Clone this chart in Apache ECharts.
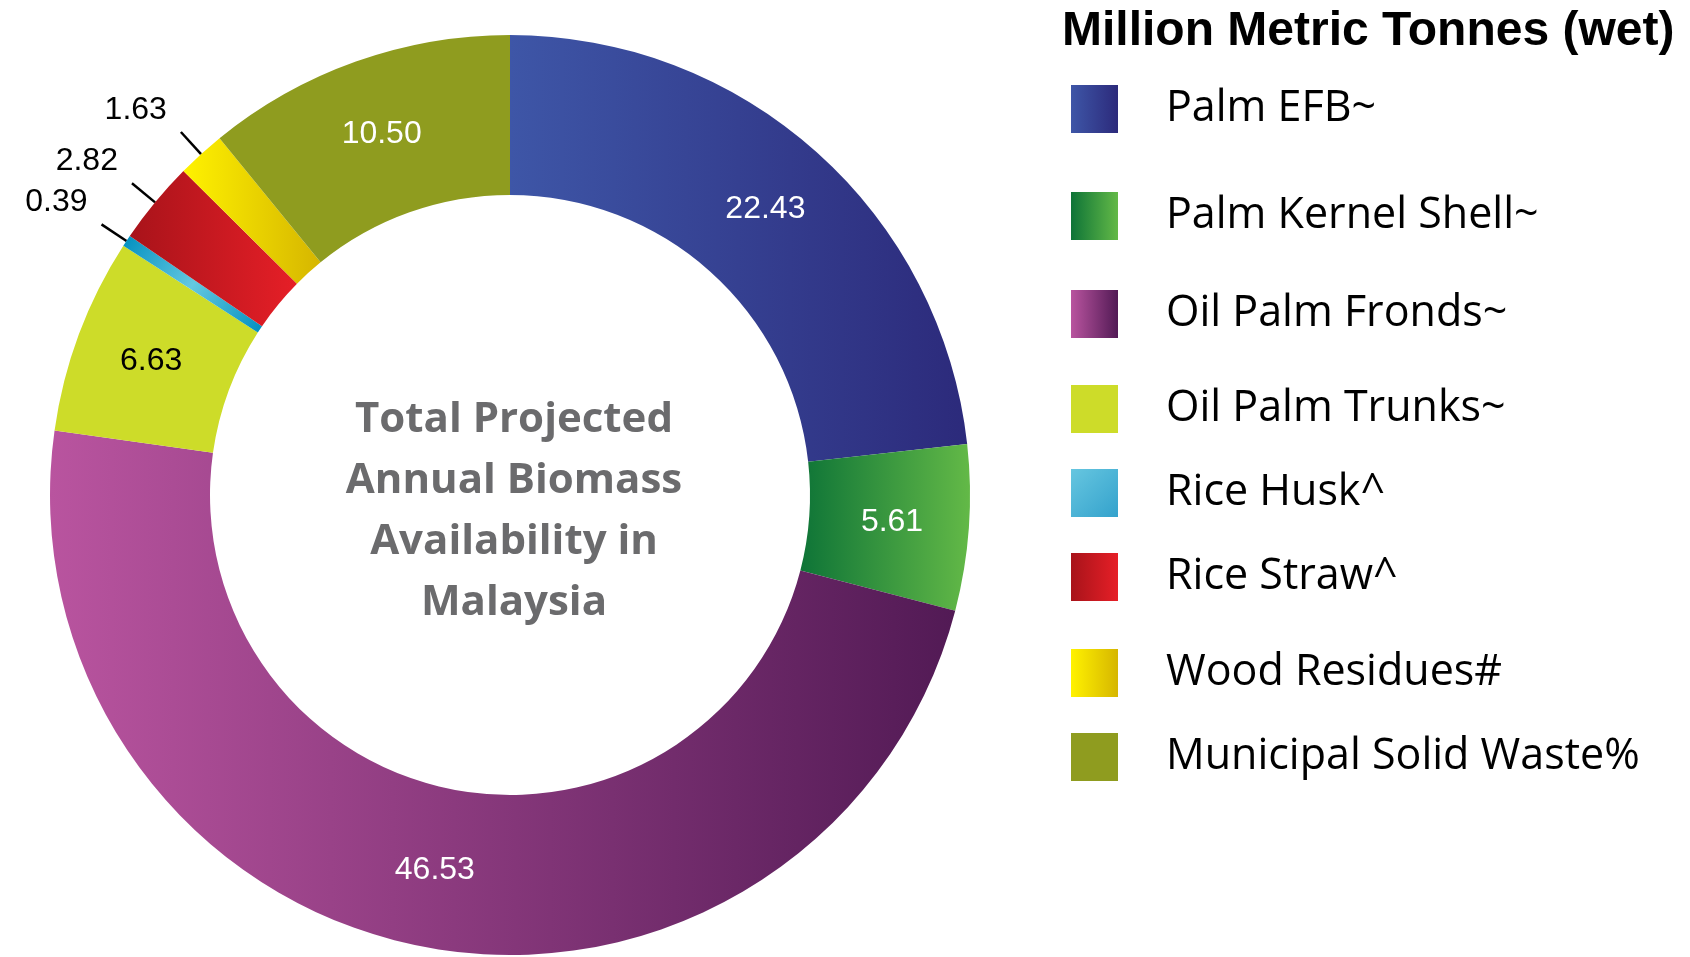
<!DOCTYPE html>
<html>
<head>
<meta charset="utf-8">
<script src="https://cdn.jsdelivr.net/npm/echarts@6/dist/echarts.min.js"></script>
<style>
  html, body { margin: 0; padding: 0; background: #fff; }
  #main { width: 1690px; height: 957px; }
</style>
</head>
<body>
<div id="main"></div>
<script>
// biomass categories and million metric tonnes (wet)
const categories = ['Palm EFB~', 'Palm Kernel Shell~', 'Oil Palm Fronds~', 'Oil Palm Trunks~',
  'Rice Husk^', 'Rice Straw^', 'Wood Residues#', 'Municipal Solid Waste%'];
const tonnes = [22.43, 5.61, 46.53, 6.63, 0.39, 2.82, 1.63, 10.50];
const centreText = 'Total Projected\nAnnual Biomass\nAvailability in\nMalaysia';
const legendTitle = 'Million Metric Tonnes (wet)';

// horizontal gradient helper (relative to each slice)
function grad(c1, c2) {
  return { type: 'linear', x: 0, y: 0, x2: 1, y2: 0,
    colorStops: [{ offset: 0, color: c1 }, { offset: 1, color: c2 }] };
}
const colors = [
  grad('#3e56a7', '#2c2a7b'),
  grad('#0e7437', '#63b947'),
  grad('#b9549f', '#521a55'),
  '#cddc29',
  { type: 'linear', x: 0, y: 0, x2: 1, y2: 1,
    colorStops: [{ offset: 0, color: '#008fbf' }, { offset: 0.5, color: '#64c8e0' }, { offset: 1, color: '#008fbf' }] },
  grad('#a8131a', '#e61f27'),
  grad('#fff200', '#d6b600'),
  '#8f9c1f'
];
// legend swatch for rice husk is a plain light-to-dark fade
const huskSwatch = { type: 'linear', x: 0, y: 0, x2: 1, y2: 1,
  colorStops: [{ offset: 0, color: '#66c6e0' }, { offset: 1, color: '#34a2cc' }] };
const labelColors = ['#fff', '#fff', '#fff', '#000', '#000', '#000', '#000', '#fff'];

const isSmall = i => tonnes[i] < 5;

const pieData = categories.map((name, i) => ({
  name: name,
  value: tonnes[i],
  itemStyle: { color: colors[i] },
  label: { position: isSmall(i) ? 'outside' : 'inside', color: labelColors[i] },
  labelLine: { show: isSmall(i) }
}));

// each legend row placed on its own (uneven spacing in the original)
const rowCentres = [104, 211, 309, 404, 488, 572, 668, 752];
const legends = categories.map((name, i) => ({
  data: [i === 4 ? { name: name, itemStyle: { color: huskSwatch } } : name],
  left: 1066,
  top: rowCentres[i] - 24,
  orient: 'vertical',
  selectedMode: false,
  icon: 'rect',
  itemWidth: 47,
  itemHeight: 48,
  textStyle: {
    fontFamily: 'Open Sans',
    fontSize: 43,
    color: '#000',
    padding: [0, 0, 0, 43]
  }
}));

var myChart = echarts.init(document.getElementById('main'));

var option = {
  animation: false,
  title: {
    text: legendTitle,
    left: 1062,
    top: 8,
    padding: 0,
    textStyle: {
      fontFamily: 'Liberation Sans',
      fontWeight: 'bold',
      fontSize: 48,
      color: '#000'
    }
  },
  legend: legends,
  graphic: [{
    type: 'text',
    x: 514,
    y: 512,
    style: {
      text: centreText,
      fill: '#6b6b6d',
      fontFamily: 'Open Sans',
      fontWeight: 'bold',
      fontSize: 42,
      lineHeight: 61,
      align: 'center',
      verticalAlign: 'middle'
    }
  }],
  series: [{
    type: 'pie',
    center: [510, 495],
    radius: [300, 460],
    startAngle: 90,
    clockwise: true,
    avoidLabelOverlap: false,
    label: {
      fontFamily: 'Liberation Sans',
      fontSize: 32,
      distanceToLabelLine: 14,
      formatter: p => p.value.toFixed(2)
    },
    labelLine: {
      length: 30,
      length2: 0,
      lineStyle: { color: '#000', width: 2.5 }
    },
    // lift the outside numbers above their leader lines, keep the lines as they are
    labelLayout: params => isSmall(params.dataIndex)
      ? { dy: -22, labelLinePoints: params.labelLinePoints }
      : {},
    emphasis: { disabled: true },
    data: pieData
  }]
};

myChart.setOption(option);
</script>
</body>
</html>
